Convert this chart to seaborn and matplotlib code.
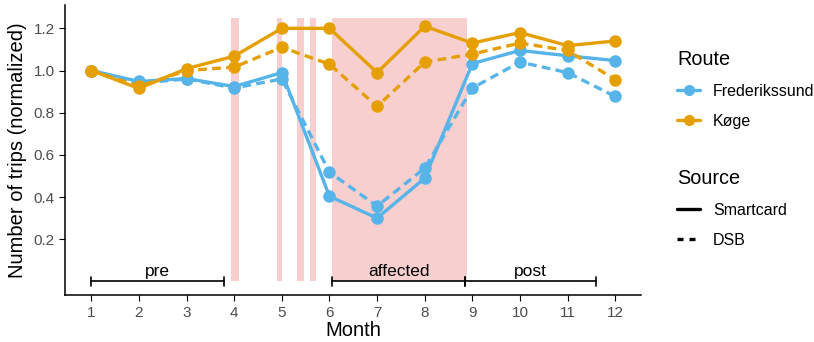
import numpy as np
import pandas as pd
import seaborn as sns
import matplotlib.pyplot as plt
from matplotlib.lines import Line2D
from matplotlib.patches import Rectangle

months = list(range(1, 13))
fred_smart = [1.00, 0.948, 0.962, 0.924, 0.99, 0.404, 0.30, 0.49, 1.033, 1.095, 1.07, 1.047]
fred_dsb = [1.00, 0.94, 0.96, 0.917, 0.96, 0.518, 0.357, 0.537, 0.917, 1.04, 0.99, 0.877]
koge_smart = [1.00, 0.915, 1.009, 1.068, 1.20, 1.20, 0.99, 1.21, 1.13, 1.18, 1.118, 1.14]
koge_dsb = [1.00, 0.925, 1.00, 1.016, 1.11, 1.03, 0.83, 1.04, 1.078, 1.13, 1.095, 0.957]

# disruption periods (month start, month end)
disrupt_start = [3.93, 4.89, 5.31, 5.60, 6.06]
disrupt_end = [4.10, 5.00, 5.46, 5.71, 8.89]
disrupt_top = 1.25

period_names = ['pre', 'affected', 'post']
period_start = [1.0, 6.06, 8.85]
period_end = [3.78, 8.85, 11.6]

df = pd.concat([
    pd.DataFrame({'Month': months, 'trips': fred_smart, 'Route': 'Frederikssund', 'Source': 'Smartcard'}),
    pd.DataFrame({'Month': months, 'trips': fred_dsb, 'Route': 'Frederikssund', 'Source': 'DSB'}),
    pd.DataFrame({'Month': months, 'trips': koge_smart, 'Route': 'Køge', 'Source': 'Smartcard'}),
    pd.DataFrame({'Month': months, 'trips': koge_dsb, 'Route': 'Køge', 'Source': 'DSB'}),
])

sns.set_style('ticks')
plt.rcParams['font.family'] = ['Liberation Sans', 'DejaVu Sans']
plt.rcParams['text.color'] = 'black'
plt.rcParams['axes.labelcolor'] = 'black'
pal = {'Frederikssund': '#56B4E9', 'Køge': '#E69F00'}
dash = (2.6, 1.6)

fig, ax = plt.subplots(figsize=(8.14, 3.42), dpi=100)
fig.subplots_adjust(left=0.08, right=0.788, top=0.985, bottom=0.137)

for s, e in zip(disrupt_start, disrupt_end):
    ax.add_patch(Rectangle((s, 0), e - s, disrupt_top, color='#F7CFCF', lw=0, zorder=0))

sns.lineplot(data=df, x='Month', y='trips', hue='Route', style='Source', palette=pal,
             dashes={'Smartcard': '', 'DSB': dash}, markers={'Smartcard': 'o', 'DSB': 'o'},
             markersize=9, markeredgewidth=0, linewidth=2.4, legend=False, ax=ax, zorder=3)

for name, s, e in zip(period_names, period_start, period_end):
    ax.plot([s, e], [0, 0], color='black', lw=1.2, zorder=4)
    ax.plot([s, s], [-0.022, 0.022], color='black', lw=1.2, zorder=4)
    ax.plot([e, e], [-0.022, 0.022], color='black', lw=1.2, zorder=4)
    ax.text((s + e) / 2, 0.012, name, ha='center', va='bottom', fontsize=12.5, zorder=5)

ax.set_xlim(0.45, 12.55)
ax.set_ylim(-0.065, 1.31)
ax.set_xticks(months)
ax.set_yticks([0.2, 0.4, 0.6, 0.8, 1.0, 1.2])
ax.set_yticklabels(['0.2', '0.4', '0.6', '0.8', '1.0', '1.2'])
ax.tick_params(labelcolor='#4D4D4D', labelsize=11, length=4, color='black')
ax.set_xlabel('Month', fontsize=14.5, labelpad=1)
ax.set_ylabel('Number of trips (normalized)', fontsize=14.5, labelpad=5)
sns.despine(ax=ax)
for sp in ['left', 'bottom']:
    ax.spines[sp].set_linewidth(1.1)
    ax.spines[sp].set_color('black')

route_handles = [Line2D([], [], color=pal[r], lw=2.4, marker='o', markersize=8, markeredgewidth=0)
                 for r in pal]
fig.legend(route_handles, list(pal), title='Route', loc='upper left',
           bbox_to_anchor=(0.822, 0.878), frameon=False, fontsize=11.5, borderpad=0,
           title_fontsize=14.3, alignment='left', handlelength=1.45, handletextpad=0.8,
           labelspacing=0.95)
src_handles = [Line2D([], [], color='black', lw=2.4),
               Line2D([], [], color='black', lw=2.4, dashes=(1.8, 1.8))]
fig.legend(src_handles, ['Smartcard', 'DSB'], title='Source', loc='upper left',
           bbox_to_anchor=(0.822, 0.53), frameon=False, fontsize=11.5, borderpad=0,
           title_fontsize=14.3, alignment='left', handlelength=1.45, handletextpad=0.8,
           labelspacing=0.95)

fig.savefig('out.png', dpi=100)
